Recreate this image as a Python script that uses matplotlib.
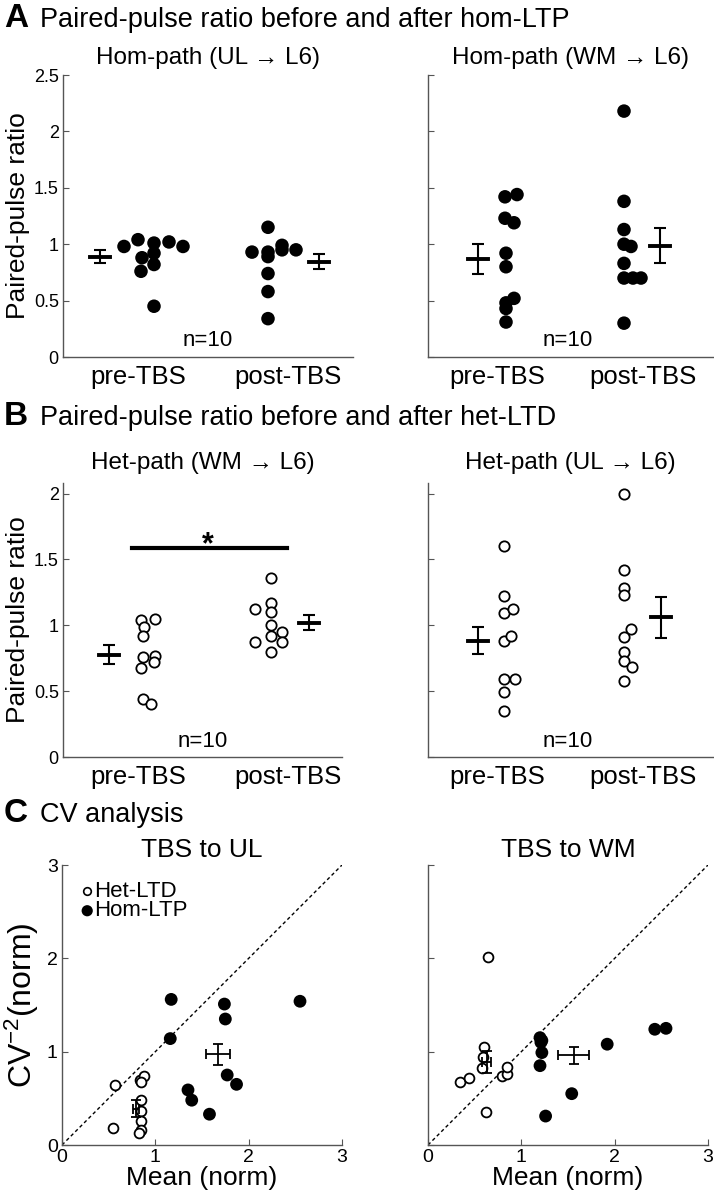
import matplotlib.pyplot as plt

plt.rcParams['font.family'] = ['Liberation Sans', 'DejaVu Sans']
plt.rcParams['mathtext.default'] = 'regular'

# ---- Panel A: paired-pulse ratio, hom-LTP (filled dots) ----
a1_pre_x = [0.61, 0.75, 0.79, 0.78, 0.91, 0.91, 0.91, 0.91, 1.06, 1.20]
a1_pre_y = [0.98, 1.04, 0.88, 0.76, 1.01, 0.92, 0.82, 0.45, 1.02, 0.98]
a1_post_x = [1.89, 2.05, 2.05, 2.05, 2.05, 2.05, 2.05, 2.19, 2.19, 2.33]
a1_post_y = [0.93, 1.15, 0.93, 0.89, 0.74, 0.58, 0.34, 0.99, 0.95, 0.95]
a1_mean_x = [0.37, 2.56]
a1_mean = [0.89, 0.845]
a1_sem = [0.055, 0.068]

a2_pre_x = [0.77, 0.89, 0.77, 0.86, 0.78, 0.78, 0.86, 0.78, 0.78, 0.78]
a2_pre_y = [1.42, 1.44, 1.23, 1.19, 0.92, 0.80, 0.52, 0.48, 0.43, 0.31]
a2_post_x = [1.96, 1.96, 1.96, 1.96, 2.03, 1.96, 1.96, 2.05, 2.13, 1.96]
a2_post_y = [2.18, 1.38, 1.13, 1.00, 0.98, 0.83, 0.70, 0.70, 0.70, 0.30]
a2_mean_x = [0.50, 2.32]
a2_mean = [0.866, 0.988]
a2_sem = [0.133, 0.158]

# ---- Panel B: paired-pulse ratio, het-LTD (open circles) ----
b1_pre_x = [0.78, 0.92, 0.81, 0.80, 0.80, 0.92, 0.91, 0.78, 0.80, 0.88]
b1_pre_y = [1.04, 1.045, 0.985, 0.92, 0.76, 0.77, 0.72, 0.675, 0.44, 0.40]
b1_post_x = [2.08, 1.92, 2.08, 2.08, 2.08, 2.19, 2.08, 1.92, 2.19, 2.08]
b1_post_y = [1.36, 1.12, 1.17, 1.10, 1.00, 0.95, 0.92, 0.87, 0.87, 0.80]
b1_mean_x = [0.46, 2.46]
b1_mean = [0.778, 1.02]
b1_sem = [0.075, 0.055]

b2_pre_x = [0.76, 0.76, 0.76, 0.85, 0.76, 0.83, 0.76, 0.87, 0.76, 0.76]
b2_pre_y = [1.60, 1.22, 1.09, 1.12, 0.88, 0.92, 0.59, 0.59, 0.49, 0.35]
b2_post_x = [1.96, 1.96, 1.96, 1.96, 2.03, 1.96, 1.96, 1.96, 2.04, 1.96]
b2_post_y = [2.00, 1.42, 1.28, 1.23, 0.97, 0.91, 0.80, 0.73, 0.68, 0.58]
b2_mean_x = [0.50, 2.33]
b2_mean = [0.884, 1.06]
b2_sem = [0.105, 0.155]

# ---- Panel C: CV analysis ----
c1_het_x = [0.57, 0.55, 0.835, 0.88, 0.85, 0.85, 0.85, 0.85, 0.85, 0.82]
c1_het_y = [0.64, 0.18, 0.70, 0.74, 0.68, 0.48, 0.36, 0.26, 0.16, 0.125]
c1_hom_x = [1.17, 1.16, 1.74, 1.75, 2.55, 1.77, 1.87, 1.35, 1.39, 1.58]
c1_hom_y = [1.56, 1.14, 1.51, 1.35, 1.54, 0.75, 0.65, 0.59, 0.48, 0.33]
c1_mean_x = [0.79, 1.67]
c1_mean_y = [0.39, 0.97]
c1_sem_x = [0.03, 0.13]
c1_sem_y = [0.09, 0.115]

c2_het_x = [0.64, 0.60, 0.59, 0.58, 0.34, 0.44, 0.79, 0.85, 0.85, 0.62]
c2_het_y = [2.01, 1.05, 0.94, 0.82, 0.67, 0.72, 0.74, 0.76, 0.84, 0.35]
c2_hom_x = [1.20, 1.22, 1.22, 1.20, 1.92, 2.43, 2.55, 1.54, 1.26, 1.21]
c2_hom_y = [1.15, 1.12, 0.99, 0.85, 1.08, 1.24, 1.25, 0.55, 0.31, 1.10]
c2_mean_x = [0.63, 1.56]
c2_mean_y = [0.89, 0.96]
c2_sem_x = [0.05, 0.17]
c2_sem_y = [0.12, 0.095]

W, H = 714, 1200
fig = plt.figure(figsize=(W / 100, H / 100), dpi=100)


def px_axes(x0, y_top, x1, y_bot):
    return fig.add_axes([x0 / W, 1 - y_bot / H, (x1 - x0) / W, (y_bot - y_top) / H])


def style(ax):
    for s in ['top', 'right']:
        ax.spines[s].set_visible(False)
    for s in ['left', 'bottom']:
        ax.spines[s].set_color('#555555')
        ax.spines[s].set_linewidth(1.0)
    ax.tick_params(axis='y', direction='in', length=4, width=0.8, color='#555555',
                   labelsize=13, pad=3)


def ppr_panel(ax, pre_x, pre_y, post_x, post_y, mx, mm, ms, xlab, filled, ymax, yticks,
              ylabels, xmax):
    style(ax)
    if filled:
        ax.scatter(pre_x + post_x, pre_y + post_y, s=95, c='black', edgecolors='none',
                   zorder=3, clip_on=False)
    else:
        ax.scatter(pre_x + post_x, pre_y + post_y, s=55, facecolors='white',
                   edgecolors='black', linewidths=1.3, zorder=3, clip_on=False)
    for x, m, e in zip(mx, mm, ms):
        ax.errorbar(x, m, yerr=e, fmt='none', ecolor='black', elinewidth=1.5,
                    capsize=4, capthick=1.5, zorder=3)
        ax.plot([x - 0.1, x + 0.1], [m, m], color='black', lw=2.8, zorder=3)
    ax.set_xlim(0, xmax)
    ax.set_ylim(0, ymax)
    ax.set_yticks(yticks)
    ax.set_yticklabels(ylabels)
    ax.set_xticks(xlab)
    ax.set_xticklabels(['pre-TBS', 'post-TBS'], fontsize=18.5)
    ax.tick_params(axis='x', length=0, pad=6)


ticks_a = [0, 0.5, 1, 1.5, 2, 2.5]
lab_a = ['0', '0.5', '1', '1.5', '2', '2.5']
ticks_b = [0, 0.5, 1, 1.5, 2]
lab_b = ['0', '0.5', '1', '1.5', '2']

# Panel A
ax = px_axes(63, 75, 353, 357)
ppr_panel(ax, a1_pre_x, a1_pre_y, a1_post_x, a1_post_y, a1_mean_x, a1_mean, a1_sem,
          [0.75, 2.25], True, 2.5, ticks_a, lab_a, 2.9)
ax.set_ylabel('Paired-pulse ratio', fontsize=19, labelpad=3)
ax.set_title('Hom-path (UL \u2192 L6)', fontsize=17.5, pad=8)
ax.text(1.45, 0.15, 'n=10', fontsize=16, ha='center', va='center')

ax = px_axes(428, 75, 713, 357)
ppr_panel(ax, a2_pre_x, a2_pre_y, a2_post_x, a2_post_y, a2_mean_x, a2_mean, a2_sem,
          [0.69, 2.15], True, 2.5, ticks_a, [''] * 6, 2.85)
ax.set_title('Hom-path (WM \u2192 L6)', fontsize=17.5, pad=8)
ax.text(1.40, 0.15, 'n=10', fontsize=16, ha='center', va='center')

# Panel B
ax = px_axes(63, 483, 342, 757)
ppr_panel(ax, b1_pre_x, b1_pre_y, b1_post_x, b1_post_y, b1_mean_x, b1_mean, b1_sem,
          [0.75, 2.25], False, 2.08, ticks_b, lab_b, 2.79)
ax.set_ylabel('Paired-pulse ratio', fontsize=19, labelpad=3)
ax.set_title('Het-path (WM \u2192 L6)', fontsize=17.5, pad=10)
ax.plot([0.69, 2.24], [1.59, 1.59], color='black', lw=3)
ax.text(1.45, 1.55, '*', fontsize=22, fontweight='bold', ha='center', va='baseline')
ax.text(1.40, 0.12, 'n=10', fontsize=16, ha='center', va='center')

ax = px_axes(428, 483, 713, 757)
ppr_panel(ax, b2_pre_x, b2_pre_y, b2_post_x, b2_post_y, b2_mean_x, b2_mean, b2_sem,
          [0.69, 2.15], False, 2.08, ticks_b, [''] * 5, 2.85)
ax.set_title('Het-path (UL \u2192 L6)', fontsize=17.5, pad=10)
ax.text(1.40, 0.12, 'n=10', fontsize=16, ha='center', va='center')


# Panel C
def cv_panel(ax, hx, hy, fx, fy, mx, my, sx, sy, ylabels):
    style(ax)
    ax.tick_params(axis='x', direction='in', length=4, width=0.8, color='#555555',
                   labelsize=14, pad=3)
    ax.tick_params(axis='y', labelsize=14)
    ax.plot([0, 3], [0, 3], ls=(0, (2.5, 2)), color='black', lw=1)
    ax.scatter(hx, hy, s=50, facecolors='white', edgecolors='black', linewidths=1.3,
               zorder=3)
    ax.scatter(fx, fy, s=85, c='black', edgecolors='none', zorder=3)
    ax.errorbar(mx, my, xerr=sx, yerr=sy, fmt='none', ecolor='black', elinewidth=1.3,
                capsize=3.5, capthick=1.3, zorder=4)
    ax.set_xlim(0, 3)
    ax.set_ylim(0, 3)
    ax.set_xticks([0, 1, 2, 3])
    ax.set_yticks([0, 1, 2, 3])
    ax.set_yticklabels(ylabels)
    ax.set_xlabel('Mean (norm)', fontsize=19, labelpad=0)


ax = px_axes(62, 865, 342, 1145)
cv_panel(ax, c1_het_x, c1_het_y, c1_hom_x, c1_hom_y, c1_mean_x, c1_mean_y, c1_sem_x,
         c1_sem_y, ['0', '1', '2', '3'])
ax.set_ylabel('CV$^{-2}$(norm)', fontsize=23, labelpad=4)
ax.set_title('TBS to UL', fontsize=19, pad=6)
ax.scatter([0.27], [2.72], s=30, facecolors='white', edgecolors='black', linewidths=1.2)
ax.scatter([0.27], [2.51], s=65, c='black', edgecolors='none')
ax.text(0.34, 2.72, 'Het-LTD', fontsize=16, va='center')
ax.text(0.34, 2.51, 'Hom-LTP', fontsize=16, va='center')

ax = px_axes(428, 865, 708, 1145)
cv_panel(ax, c2_het_x, c2_het_y, c2_hom_x, c2_hom_y, c2_mean_x, c2_mean_y, c2_sem_x,
         c2_sem_y, [''] * 4)
ax.set_title('TBS to WM', fontsize=19, pad=6)

# section headers
heads = [('A', 'Paired-pulse ratio before and after hom-LTP', 27),
         ('B', 'Paired-pulse ratio before and after het-LTD', 425),
         ('C', 'CV analysis', 822)]
for letter, txt, yb in heads:
    fig.text(4 / W, 1 - yb / H, letter, fontsize=24, fontweight='bold', va='baseline')
    fig.text(40 / W, 1 - yb / H, txt, fontsize=19.5, va='baseline')

fig.savefig('out.png', dpi=100)
